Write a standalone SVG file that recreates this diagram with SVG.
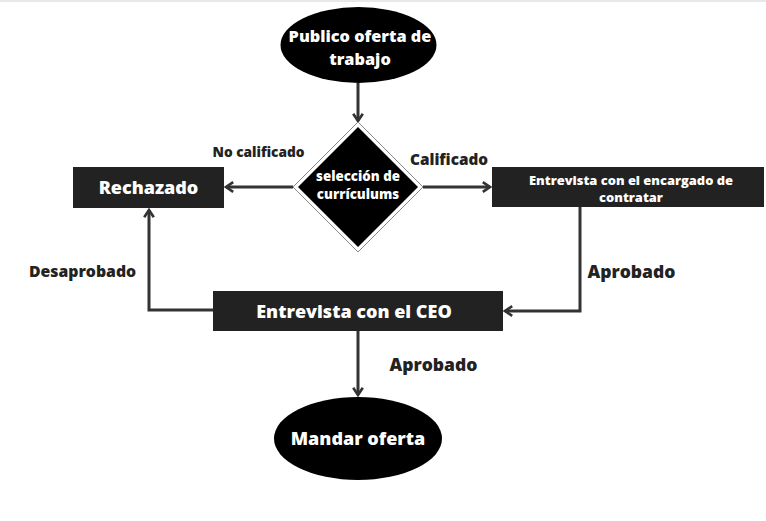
<svg xmlns="http://www.w3.org/2000/svg" width="766" height="521" viewBox="0 0 766 521">
<style>
.lbl{font-family:"Open Sans","Noto Sans","DejaVu Sans",sans-serif;font-weight:800;fill:#222;text-anchor:middle;}
.wt{font-family:"Open Sans","Noto Sans","DejaVu Sans",sans-serif;font-weight:800;fill:#fff;text-anchor:middle;}
.box{fill:#222;}
.ln{fill:none;stroke:#333;stroke-width:3;}
</style>
<defs>
<marker id="ah" viewBox="0 0 10 10" refX="8" refY="5" markerWidth="4" markerHeight="4" orient="auto" markerUnits="strokeWidth">
<polyline points="2,1 8,5 2,9" fill="none" stroke="#333" stroke-width="2.2"/>
</marker>
</defs>
<rect x="0" y="0" width="766" height="521" fill="#fff"/>
<rect x="0" y="0" width="766" height="2" fill="#e8e8ec"/>
<g id="connectors">
<line class="ln" x1="358" y1="83" x2="358" y2="121" marker-end="url(#ah)"/>
<line class="ln" x1="293" y1="187" x2="226" y2="187" marker-end="url(#ah)"/>
<line class="ln" x1="423" y1="187" x2="490" y2="187" marker-end="url(#ah)"/>
<polyline class="ln" points="580,207 580,311 505,311" marker-end="url(#ah)"/>
<polyline class="ln" points="213,310 149,310 149,210" marker-end="url(#ah)"/>
<line class="ln" x1="358" y1="331" x2="358" y2="395" marker-end="url(#ah)"/>
<text class="lbl" x="258.5" y="157" font-size="13.7">No calificado</text>
<text class="lbl" x="449" y="165" font-size="15.3">Calificado</text>
<text class="lbl" x="82.5" y="277" font-size="15.8">Desaprobado</text>
<text class="lbl" x="631.5" y="278" font-size="17.5">Aprobado</text>
<text class="lbl" x="433.5" y="371" font-size="17.5">Aprobado</text>
</g>
<g id="publico">
<ellipse cx="358.5" cy="45" rx="78" ry="38" fill="#000"/>
<text class="wt" x="360" y="42" font-size="16.3">Publico oferta de</text>
<text class="wt" x="360" y="65" font-size="16.3">trabajo</text>
</g>
<g id="seleccion">
<polygon points="358,122 423,187 358,252 293,187" fill="#fff" stroke="#888" stroke-width="1"/>
<polygon points="358,127 418,187 358,247 298,187" fill="#000"/>
<text class="wt" x="358" y="181" font-size="13.3">selección de</text>
<text class="wt" x="358" y="199" font-size="13.3">currículums</text>
</g>
<g id="rechazado">
<rect class="box" x="73" y="167" width="151" height="41"/>
<text class="wt" x="148.5" y="194" font-size="18">Rechazado</text>
</g>
<g id="encargado">
<rect class="box" x="492" y="167" width="272" height="40"/>
<text class="wt" x="631" y="185" font-size="12.9">Entrevista con el encargado de</text>
<text class="wt" x="631" y="202" font-size="12.9">contratar</text>
</g>
<g id="ceo">
<rect class="box" x="213" y="291" width="290" height="40"/>
<text class="wt" x="354" y="318" font-size="18">Entrevista con el CEO</text>
</g>
<g id="mandar">
<ellipse cx="358" cy="438.5" rx="84" ry="41.5" fill="#000"/>
<text class="wt" x="358" y="445" font-size="18">Mandar oferta</text>
</g>
</svg>
